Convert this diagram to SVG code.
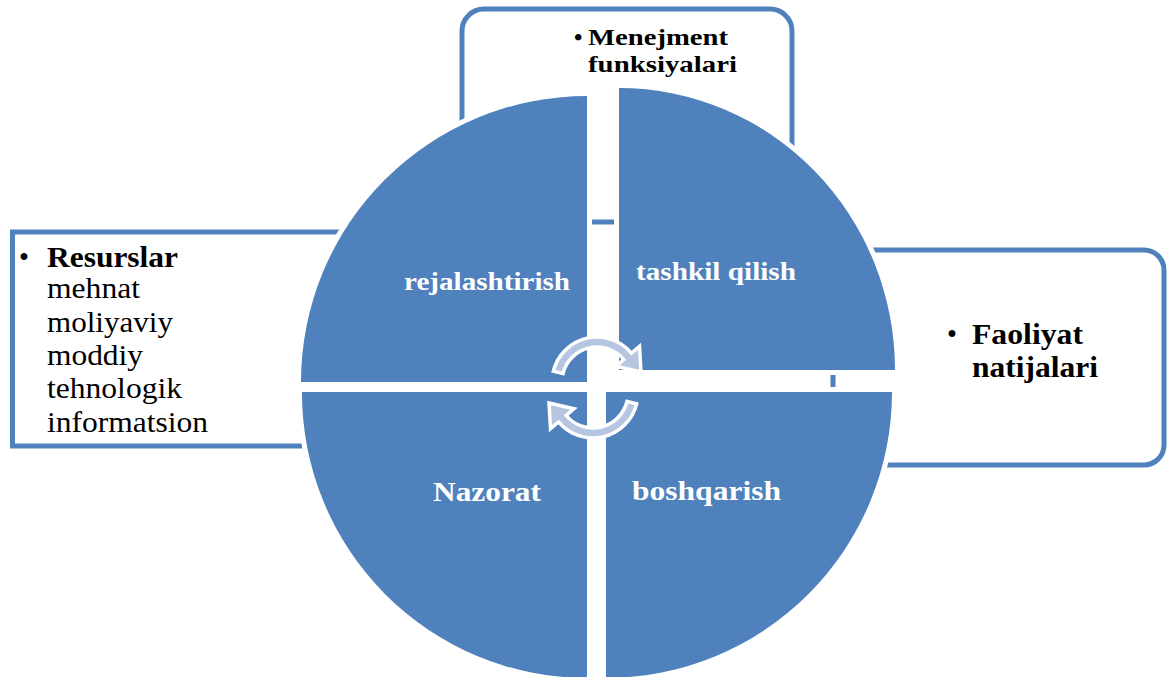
<svg xmlns="http://www.w3.org/2000/svg" width="1171" height="677" viewBox="0 0 1171 677">
  <style>
    .box { fill: #ffffff; stroke: #4f81bd; stroke-width: 5; }
    .quad { fill: #4f81bd; stroke: #ffffff; stroke-width: 10; paint-order: stroke; stroke-linejoin: miter; }
    .qlabel { font-weight: bold; fill: #ffffff; }
    .btxt { fill: #000000; }
    .bold { font-weight: bold; }
    .cyc { fill: #b6c6e0; stroke: #ffffff; stroke-width: 3.5; stroke-linejoin: miter; }
  </style>

  <g font-family="'Liberation Serif', serif">
  <!-- outer boxes, partly hidden behind the circle -->
  <g id="box-menejment">
    <rect class="box" x="462" y="9" width="330" height="213" rx="22" ry="22"/>
    <text class="btxt bold" x="574" y="45" font-size="24">•</text>
    <text class="btxt bold" x="588" y="45" font-size="24" textLength="140" lengthAdjust="spacingAndGlyphs">Menejment</text>
    <text class="btxt bold" x="588" y="72" font-size="24" textLength="149" lengthAdjust="spacingAndGlyphs">funksiyalari</text>
  </g>

  <g id="box-resurslar">
    <rect class="box" x="12.5" y="232" width="440" height="214"/>
    <text class="btxt" x="19" y="267" font-size="28.5">•</text>
    <text class="btxt bold" x="47" y="267" font-size="28.5" textLength="131" lengthAdjust="spacingAndGlyphs">Resurslar</text>
    <text class="btxt" x="47" y="298" font-size="28.5" textLength="93" lengthAdjust="spacingAndGlyphs">mehnat</text>
    <text class="btxt" x="47" y="331.5" font-size="28.5" textLength="126" lengthAdjust="spacingAndGlyphs">moliyaviy</text>
    <text class="btxt" x="47" y="365" font-size="28.5" textLength="96" lengthAdjust="spacingAndGlyphs">moddiy</text>
    <text class="btxt" x="47" y="398" font-size="28.5" textLength="135" lengthAdjust="spacingAndGlyphs">tehnologik</text>
    <text class="btxt" x="47" y="431.5" font-size="28.5" textLength="161" lengthAdjust="spacingAndGlyphs">informatsion</text>
  </g>

  <g id="box-faoliyat">
    <rect class="box" x="833" y="250" width="331" height="215" rx="20" ry="20"/>
    <text class="btxt" x="947" y="344" font-size="28.5">•</text>
    <text class="btxt bold" x="972" y="344" font-size="28.5" textLength="111" lengthAdjust="spacingAndGlyphs">Faoliyat</text>
    <text class="btxt bold" x="972" y="377" font-size="28.5" textLength="126" lengthAdjust="spacingAndGlyphs">natijalari</text>
  </g>

  <!-- four quarter segments of the cycle -->
  <g id="q-rejalashtirish">
    <path class="quad" d="M587 382 L301 382 A286 286 0 0 1 587 96 Z"/>
    <text class="qlabel" x="404" y="290" font-size="26" textLength="166" lengthAdjust="spacingAndGlyphs">rejalashtirish</text>
  </g>
  <g id="q-tashkil">
    <path class="quad" d="M619 370 L619 88 A276 282 0 0 1 895 370 Z"/>
    <text class="qlabel" x="636" y="280" font-size="26" textLength="160" lengthAdjust="spacingAndGlyphs">tashkil qilish</text>
  </g>
  <g id="q-boshqarish">
    <path class="quad" d="M606 392 L892 392 A286 286 0 0 1 606 678 Z"/>
    <text class="qlabel" x="632" y="500" font-size="28" textLength="149" lengthAdjust="spacingAndGlyphs">boshqarish</text>
  </g>
  <g id="q-nazorat">
    <path class="quad" d="M587 392 L587 678 A285 285 0 0 1 302 392 Z"/>
    <text class="qlabel" x="433" y="501" font-size="28" textLength="108" lengthAdjust="spacingAndGlyphs">Nazorat</text>
  </g>
  </g>

  <!-- circular arrows in the middle -->
  <g id="connectors">
    <defs>
      <path id="cyc-arrow" d="M563.04 373.53 L553.34 371.11 A45 45 0 0 1 631.47 353.07 L639.5 346.3 L641 372 L616 366.3 L623.81 359.5 A35 35 0 0 0 563.04 373.53 Z"/>
    </defs>
    <use href="#cyc-arrow" class="cyc"/>
    <use href="#cyc-arrow" class="cyc" transform="rotate(180 595 387.5)"/>
  </g>
</svg>
